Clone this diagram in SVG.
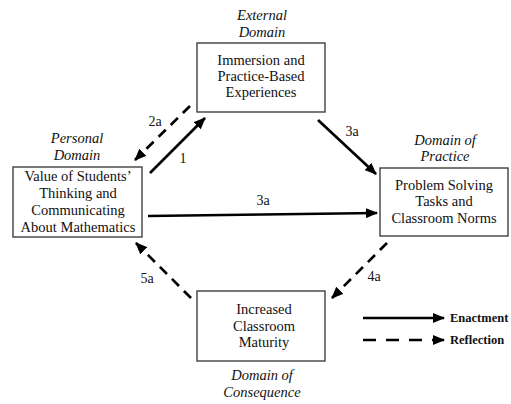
<svg xmlns="http://www.w3.org/2000/svg" width="511" height="404" viewBox="0 0 511 404">
  <style>
    text { font-family: "Liberation Serif", "Times New Roman", serif; fill: #111; }
    .box { fill: #ffffff; stroke: #404040; stroke-width: 1.4; }
    .txt { font-size: 14.5px; text-anchor: middle; }
    .dom { font-size: 14.5px; font-style: italic; text-anchor: middle; }
    .lbl { font-size: 14px; text-anchor: middle; }
    .leg { font-size: 12.5px; font-weight: bold; }
    .solid { stroke: #000; stroke-width: 2.7; fill: none; marker-end: url(#head); }
    .dash { stroke: #000; stroke-width: 2.7; fill: none; stroke-dasharray: 10 7; marker-end: url(#head); }
  </style>
  <defs>
    <marker id="head" markerUnits="userSpaceOnUse" markerWidth="12" markerHeight="10" refX="11" refY="5" orient="auto">
      <path d="M0,0 L12,5 L0,10 Z" fill="#000"/>
    </marker>
  </defs>

  <!-- domain captions -->
  <g id="captions">
    <text class="dom" x="262" y="20">External</text>
    <text class="dom" x="262" y="37">Domain</text>
    <text class="dom" x="77" y="143">Personal</text>
    <text class="dom" x="77" y="160">Domain</text>
    <text class="dom" x="445" y="145">Domain of</text>
    <text class="dom" x="445" y="161">Practice</text>
    <text class="dom" x="262" y="380">Domain of</text>
    <text class="dom" x="262" y="397">Consequence</text>
  </g>

  <g id="immersion">
    <rect class="box" x="197" y="43" width="128" height="69"/>
    <text class="txt" x="261" y="65">Immersion and</text>
    <text class="txt" x="261" y="81">Practice-Based</text>
    <text class="txt" x="261" y="97">Experiences</text>
  </g>

  <g id="value">
    <rect class="box" x="13" y="167" width="129" height="70"/>
    <text class="txt" x="78" y="181">Value of Students’</text>
    <text class="txt" x="78" y="198">Thinking and</text>
    <text class="txt" x="78" y="215">Communicating</text>
    <text class="txt" x="78" y="232">About Mathematics</text>
  </g>

  <g id="problem">
    <rect class="box" x="380" y="168" width="128" height="68"/>
    <text class="txt" x="444" y="190">Problem Solving</text>
    <text class="txt" x="444" y="206">Tasks and</text>
    <text class="txt" x="444" y="223">Classroom Norms</text>
  </g>

  <g id="maturity">
    <rect class="box" x="197" y="291" width="128" height="70"/>
    <text class="txt" x="264" y="314">Increased</text>
    <text class="txt" x="264" y="331">Classroom</text>
    <text class="txt" x="264" y="347">Maturity</text>
  </g>

  <g id="connectors">
    <line class="solid" x1="150" y1="173" x2="205" y2="118"/>
    <line class="dash" x1="190" y1="106" x2="135" y2="160"/>
    <line class="solid" x1="318" y1="120" x2="376" y2="174"/>
    <line class="solid" x1="148" y1="216" x2="377" y2="213"/>
    <line class="dash" x1="387" y1="243" x2="332" y2="298"/>
    <line class="dash" x1="191" y1="298" x2="136" y2="243"/>
    <text class="lbl" x="155" y="126">2a</text>
    <text class="lbl" x="183" y="163">1</text>
    <text class="lbl" x="352" y="136">3a</text>
    <text class="lbl" x="263" y="205">3a</text>
    <text class="lbl" x="374" y="281">4a</text>
    <text class="lbl" x="147" y="283">5a</text>
  </g>

  <g id="legend">
    <line class="solid" x1="363" y1="318" x2="444" y2="318"/>
    <line class="solid" x1="363" y1="340" x2="444" y2="340" stroke-dasharray="13 10"/>
    <text class="leg" x="450" y="322">Enactment</text>
    <text class="leg" x="450" y="344">Reflection</text>
  </g>
</svg>
